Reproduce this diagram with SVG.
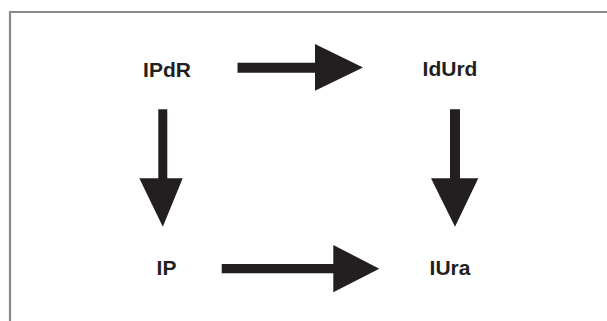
<svg xmlns="http://www.w3.org/2000/svg" width="607" height="321" viewBox="0 0 607 321">
<style>
.lbl{font-family:"Liberation Sans",Arial,sans-serif;font-weight:bold;font-size:21px;fill:#231f20;text-anchor:middle}
.arr{fill:#231f20}
</style>
<rect width="607" height="321" fill="#fff"/>
<path d="M10,330 V12 H620" fill="none" stroke="#8a8a8a" stroke-width="2.2"/>
<g id="n-ipdr"><text class="lbl" x="167" y="77">IPdR</text></g>
<g id="n-idurd"><text class="lbl" x="450" y="76">IdUrd</text></g>
<g id="n-ip"><text class="lbl" x="166.5" y="275">IP</text></g>
<g id="n-iura"><text class="lbl" x="450" y="275">IUra</text></g>
<g id="connectors">
<polygon class="arr" points="237.5,62.7 315,62.7 315,44 363,67.5 315,90.7 315,72.7 237.5,72.7"/>
<polygon class="arr" points="221.7,264 333.3,264 333.3,245 379.3,268.7 333.3,292.3 333.3,273.3 221.7,273.3"/>
<polygon class="arr" points="158.3,109.3 167.3,109.3 167.3,178.3 182.7,178.3 162.8,226.7 139.3,178.3 158.3,178.3"/>
<polygon class="arr" points="450,109.3 460,109.3 460,178.3 478.3,178.3 455,226.7 431,178.3 450,178.3"/>
</g>
</svg>
